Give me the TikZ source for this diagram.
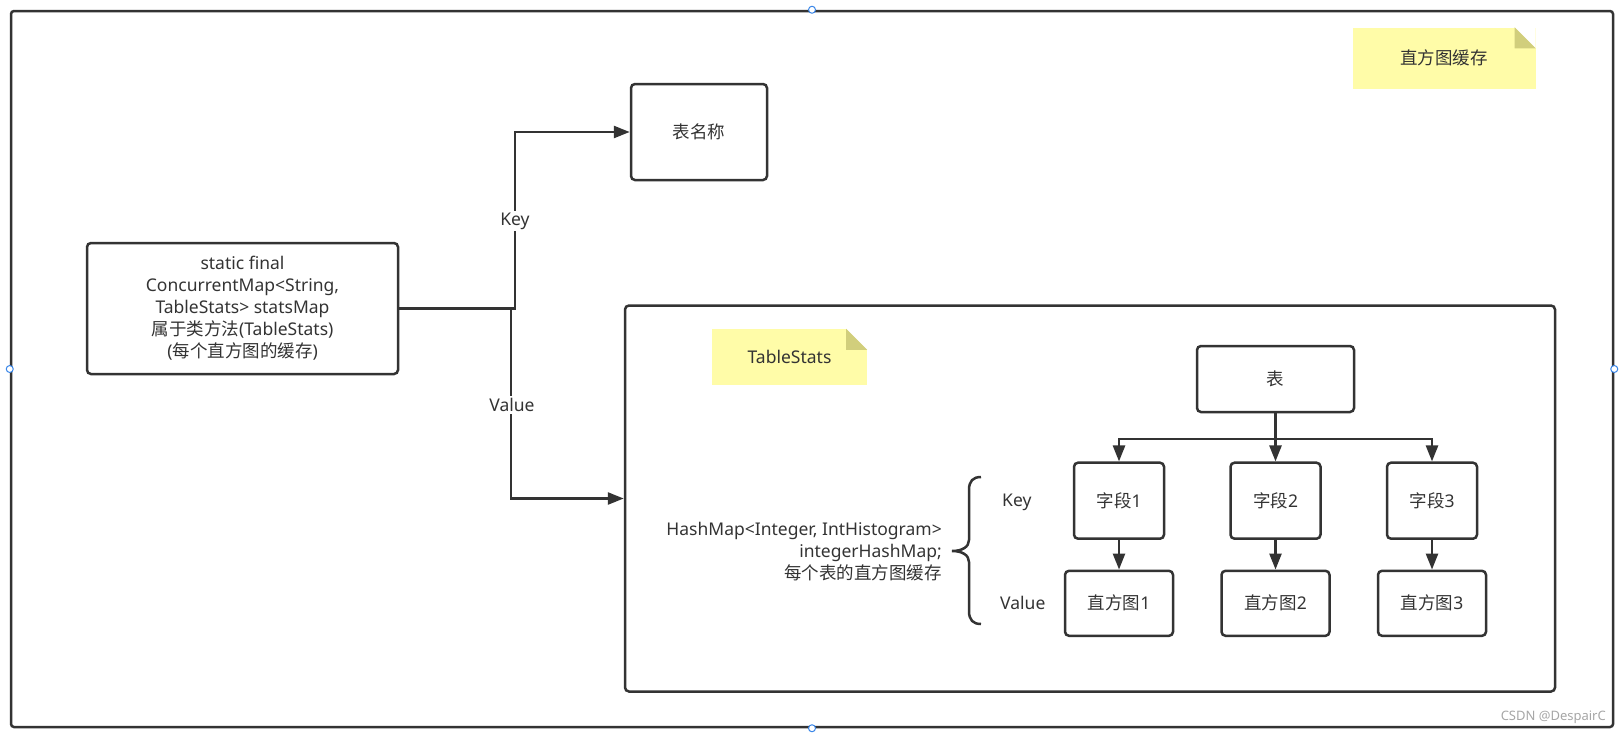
\documentclass[tikz,border=0pt]{standalone}
\usepackage{fontspec}
\setmainfont{Noto Sans}
\newfontfamily\cjk{Noto Sans CJK SC}
\usetikzlibrary{arrows.meta}

\definecolor{ink}{HTML}{333333}
\definecolor{memoyellow}{HTML}{FFFCA8}
\definecolor{memofold}{HTML}{D1CE7C}
\definecolor{handleblue}{HTML}{3A86E8}

\tikzstyle{box} = [draw=ink, rectangle, rounded corners=4pt, line width=2.5pt, text=ink, align=center]
\tikzstyle{fieldbox} = [box, minimum width=90pt, minimum height=76pt]
\tikzstyle{histbox} = [box, minimum width=108pt, minimum height=65pt]
\tikzstyle{memo} = [rectangle, fill=memoyellow, text=ink]
\tikzstyle{inout} = [rectangle, text=ink, inner sep=2pt]
\tikzstyle{link} = [draw=ink, line width=2.5pt, -{Triangle[length=16pt,width=12pt]}]
\tikzstyle{handle} = [circle, draw=handleblue, fill=white, line width=1pt, minimum size=7pt, inner sep=0pt]

\begin{document}
\begin{tikzpicture}[x=1pt,y=-1pt,node distance=1cm,font=\fontsize{17.5}{22}\selectfont]
  \def\fold{21pt}
  \def\lw{2.5pt}

  \useasboundingbox (0,0) rectangle (1620,734);

  \node [box, minimum width=1602pt, minimum height=716pt, rounded corners=3pt] (frame) at (812,369) {};

  \node [memo, minimum width=183pt, minimum height=61pt] (cachememo) at (1444,58) {\cjk 直方图缓存};
  \node [box, minimum width=136pt, minimum height=96pt] (tname) at (699,132) {\cjk 表名称};
  \node [box, minimum width=311pt, minimum height=131pt] (statsmap) at (242.5,308.5)
    {static final\\ConcurrentMap<String,\\TableStats> statsMap\\{\cjk 属于类方法}(TableStats)\\({\cjk 每个直方图的缓存})};

  \node [box, minimum width=930pt, minimum height=386pt] (tstats) at (1090,498.5) {};
  \node [memo, minimum width=155pt, minimum height=56pt] (statsmemo) at (789.5,357) {TableStats};

  \foreach \n in {cachememo,statsmemo} {
    \fill [white] ([xshift=-\fold]\n.north east) -- (\n.north east) -- ([yshift=-\fold]\n.north east) -- cycle;
    \fill [memofold] ([xshift=-\fold]\n.north east) -- ([xshift=-\fold,yshift=-\fold]\n.north east) -- ([yshift=-\fold]\n.north east) -- cycle;
  }

  \node [box, minimum width=157pt, minimum height=66pt] (tbl) at (1275.5,379) {\cjk 表};
  \node [fieldbox, below of=tbl, node distance=121.7pt] (f2) {{\cjk 字段}2};
  \node [fieldbox, left of=f2, node distance=156.5pt] (f1) {{\cjk 字段}1};
  \node [fieldbox, right of=f2, node distance=156.5pt] (f3) {{\cjk 字段}3};
  \node [histbox, below of=f1, node distance=102.6pt] (h1) {{\cjk 直方图}1};
  \node [histbox, below of=f2, node distance=102.6pt] (h2) {{\cjk 直方图}2};
  \node [histbox, below of=f3, node distance=102.6pt] (h3) {{\cjk 直方图}3};
  \node [coordinate, below of=tbl, node distance=60pt] (split) {};

  \node [inout, anchor=east, align=right] (hmtext) at (944,552)
    {HashMap<Integer, IntHistogram>\\integerHashMap;\\{\cjk 每个表的直方图缓存}};
  \draw [ink, line width=\lw] (981,477) .. controls (973,477) and (969,481) .. (969,490) -- (969,540)
    .. controls (969,547) and (962,551) .. (952,551) .. controls (962,551) and (969,555) .. (969,562)
    -- (969,611) .. controls (969,620) and (973,624) .. (981,624);
  \node [inout, anchor=west] (fkey) at (1000,502) {Key};
  \node [inout, anchor=west] (fval) at (998,603) {Value};

  \coordinate (kx) at (515,308.5);
  \coordinate (vx) at (511,308.5);
  \draw [link] (statsmap.east) -- (kx) |- (tname.west);
  \draw [link] (vx) |- (tstats.west);
  \node [inout, fill=white] (keylbl) at (515,221) {Key};
  \node [inout, fill=white] (vallbl) at (512,405) {Value};

  \draw [ink, line width=\lw] (tbl.south) -- (split);
  \draw [link] (split) -| (f1.north);
  \draw [link] (split) -- (f2.north);
  \draw [link] (split) -| (f3.north);
  \foreach \i in {1,2,3}
    \draw [link] (f\i.south) -- (f\i.south |- h\i.north);

  \foreach \a in {north,south,east,west}
    \node [handle] (h\a) at (frame.\a) {};

  \node [anchor=east, text=gray!70, font=\fontsize{13}{15}\selectfont, inner sep=0pt] (mark) at (1606,717) {CSDN @DespairC};
\end{tikzpicture}
\end{document}
